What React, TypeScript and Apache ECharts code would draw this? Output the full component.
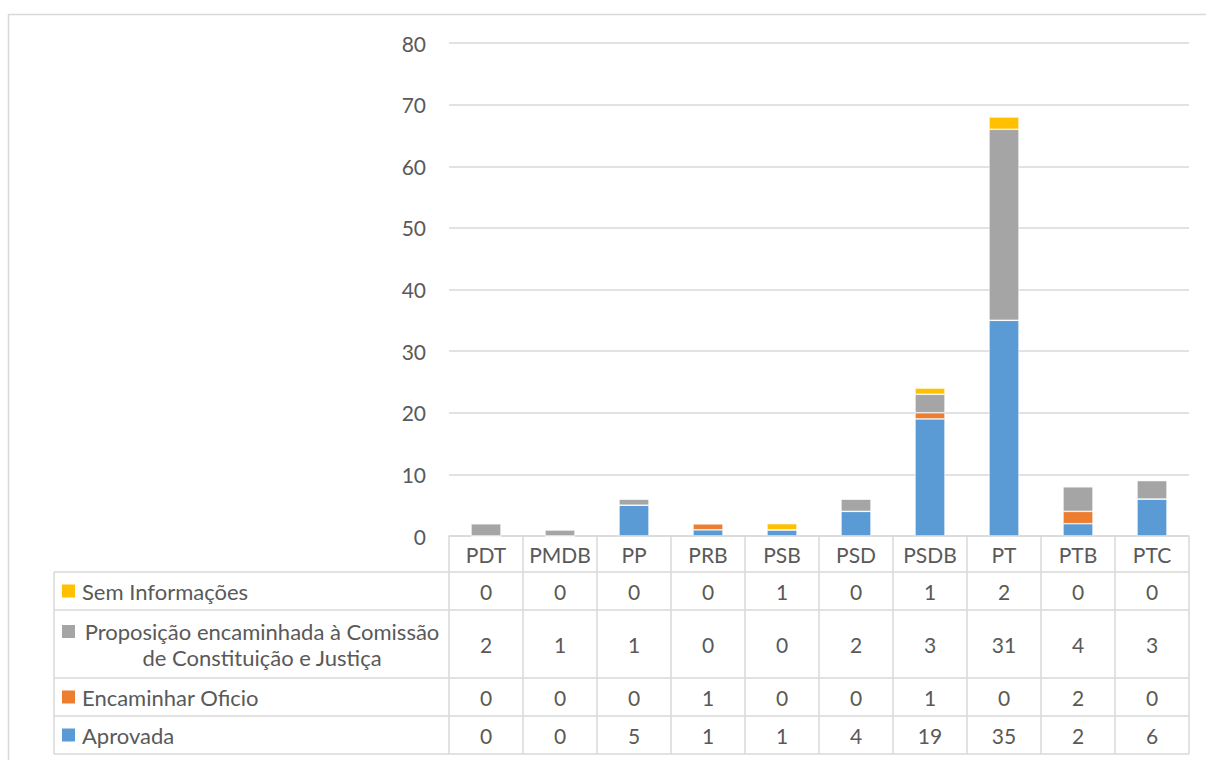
import React, { useEffect, useRef } from "react";
import * as echarts from "echarts";

const categories = ["PDT", "PMDB", "PP", "PRB", "PSB", "PSD", "PSDB", "PT", "PTB", "PTC"];
const semInformacoes = [0, 0, 0, 0, 1, 0, 1, 2, 0, 0];
const proposicao = [2, 1, 1, 0, 0, 2, 3, 31, 4, 3];
const encaminharOficio = [0, 0, 0, 1, 0, 0, 1, 0, 2, 0];
const aprovada = [0, 0, 5, 1, 1, 4, 19, 35, 2, 6];
const yTicks = { min: 0, max: 80, interval: 10 };

const seriesDefs = [
  { name: "Aprovada", data: aprovada, color: "#5B9BD5" },
  { name: "Encaminhar Oficio", data: encaminharOficio, color: "#ED7D31" },
  { name: "Proposição encaminhada à Comissão de Constituição e Justiça", label: "Proposição encaminhada à Comissão\nde Constituição e Justiça", data: proposicao, color: "#A5A5A5" },
  { name: "Sem Informações", data: semInformacoes, color: "#FFC000" },
];

const W = 1206;
const H = 760;
const GL = 449;
const GR = 1189;
const GT = 43;
const GB = 536;
const FONT = "Lato, 'Open Sans', sans-serif";
const FS = 21;
const FS_LEG = 22;
const TXT = "#595959";
const LINE = "#D9D9D9";

export default function App() {
  const ref = useRef<HTMLDivElement>(null);
  useEffect(() => {
    document.body.style.margin = "0";
    if (!ref.current) return;
    const chart = echarts.init(ref.current, null, { renderer: "svg" });

    const rows = [...seriesDefs].reverse();
    const rowBounds = [572, 610, 678, 716, 754];
    const colW = (GR - GL) / categories.length;
    const graphics: any[] = [];
    graphics.push({ type: "rect", shape: { x: 8.5, y: 14.5, width: W + 10, height: H + 10 }, style: { fill: "none", stroke: LINE, lineWidth: 1.5 }, silent: true });
    rowBounds.forEach((y) => {
      graphics.push({ type: "line", shape: { x1: 54, y1: y, x2: GR, y2: y }, style: { stroke: LINE, lineWidth: 1.5 } });
    });
    graphics.push({ type: "line", shape: { x1: 54, y1: 572, x2: 54, y2: 754 }, style: { stroke: LINE, lineWidth: 1.5 } });
    for (let i = 0; i <= categories.length; i++) {
      const x = GL + i * colW;
      graphics.push({ type: "line", shape: { x1: x, y1: GB, x2: x, y2: 754 }, style: { stroke: LINE, lineWidth: 1.5 } });
    }
    rows.forEach((s, r) => {
      const y0 = rowBounds[r];
      const y1 = rowBounds[r + 1];
      const cy = (y0 + y1) / 2;
      const multi = !!s.label;
      const keyY = multi ? y0 + 15 : cy - 6.5;
      graphics.push({ type: "rect", shape: { x: 62, y: keyY, width: 13, height: 13 }, style: { fill: s.color } });
      if (multi) {
        graphics.push({ type: "text", x: 262, y: cy, style: { text: s.label, font: `${FS_LEG}px ${FONT}`, fill: TXT, align: "center", verticalAlign: "middle", lineHeight: 26 } });
      } else {
        graphics.push({ type: "text", x: 82, y: cy, style: { text: s.name, font: `${FS_LEG}px ${FONT}`, fill: TXT, align: "left", verticalAlign: "middle" } });
      }
      s.data.forEach((v, i) => {
        graphics.push({ type: "text", x: GL + (i + 0.5) * colW, y: cy, style: { text: String(v), font: `${FS}px ${FONT}`, fill: TXT, align: "center", verticalAlign: "middle" } });
      });
    });

    chart.setOption({
      animation: false,
      grid: { left: GL, right: W - GR, top: GT, bottom: H - GB, containLabel: false },
      xAxis: {
        type: "category",
        data: categories,
        axisLine: { show: true, lineStyle: { color: LINE, width: 1.5 } },
        axisTick: { show: false },
        axisLabel: { color: TXT, fontSize: FS, fontFamily: FONT, margin: 8, interval: 0, hideOverlap: false },
      },
      yAxis: {
        type: "value",
        min: yTicks.min,
        max: yTicks.max,
        interval: yTicks.interval,
        axisLine: { show: false },
        axisTick: { show: false },
        axisLabel: { color: TXT, fontSize: FS, fontFamily: FONT, margin: 23 },
        splitLine: { lineStyle: { color: LINE, width: 1.5 } },
      },
      series: seriesDefs.map((s) => ({
        name: s.name,
        type: "bar",
        stack: "total",
        barWidth: 30,
        data: s.data,
        itemStyle: { color: s.color, borderColor: "#ffffff", borderWidth: 0.6 },
      })),
      graphic: graphics,
    });
    return () => chart.dispose();
  }, []);
  return <div ref={ref} style={{ width: W, height: H }} />;
}
